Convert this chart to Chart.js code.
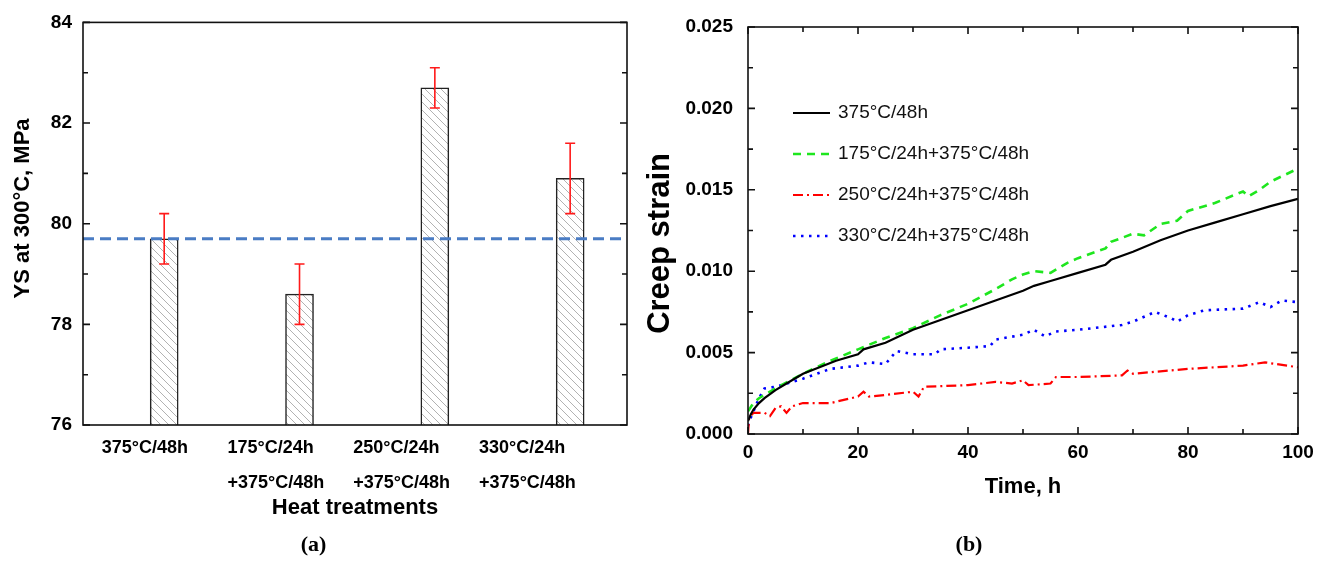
<!DOCTYPE html>
<html>
<head>
<meta charset="utf-8">
<script src="https://cdn.jsdelivr.net/npm/chart.js@4.4.1/dist/chart.umd.min.js"></script>
<style>
  html, body { margin: 0; padding: 0; background: #fff; }
  #wrap { position: relative; width: 1325px; height: 563px; }
  #boxA { position: absolute; left: 0; top: 0; width: 640px; height: 563px; }
  #boxB { position: absolute; left: 640px; top: 0; width: 685px; height: 563px; }
</style>
</head>
<body>
<div id="wrap">
  <div id="boxA"><canvas id="chart-a"></canvas></div>
  <div id="boxB"><canvas id="chart-b"></canvas></div>
</div>
<script>
// ---- (a) yield strength at 300C ----
const treatments = [
  ['375°C/48h'],
  ['175°C/24h', '+375°C/48h'],
  ['250°C/24h', '+375°C/48h'],
  ['330°C/24h', '+375°C/48h'],
];
const ysValues = [79.7, 78.6, 82.7, 80.9];
const ysErrors = [0.5, 0.6, 0.4, 0.7];
const ysReference = 79.7;
const ysTicks = [76, 78, 80, 82, 84];

// ---- (b) creep strain vs time ----
const time375 = [0, 0.5, 1, 2, 3, 5, 7, 10, 13, 16, 20, 21, 25, 30, 35, 40, 45, 50, 52, 55, 60, 65, 66, 70, 75, 80, 85, 90, 95, 100];
const strain375 = [0.0008, 0.0012, 0.0015, 0.0019, 0.0022, 0.0027, 0.0031, 0.0037, 0.0041, 0.0045, 0.0049, 0.0052, 0.0056, 0.0064, 0.0070, 0.0076, 0.0082, 0.0088, 0.0091, 0.0094, 0.0099, 0.0104, 0.0107, 0.0112, 0.0119, 0.0125, 0.0130, 0.0135, 0.0140, 0.01445];

const time175 = [0, 1, 2, 5, 10, 15, 20, 25, 30, 35, 40, 45, 48, 50, 52, 55, 58, 60, 65, 66, 70, 72, 75, 78, 80, 85, 90, 91, 93, 95, 100];
const strain175 = [0.0014, 0.0019, 0.0022, 0.0028, 0.0037, 0.0045, 0.0052, 0.0059, 0.0065, 0.0073, 0.0080, 0.0089, 0.0095, 0.0098, 0.0100, 0.0099, 0.0105, 0.0108, 0.0114, 0.0118, 0.0123, 0.0122, 0.0129, 0.0131, 0.0137, 0.0142, 0.0149, 0.0146, 0.0150, 0.0155, 0.0163];

const time250 = [0, 0.2, 1, 3, 4, 5, 6, 7, 8, 10, 15, 20, 21, 22, 25, 30, 31, 32, 40, 45, 48, 50, 51, 55, 56, 60, 68, 69, 70, 80, 90, 94, 98, 100];
const strain250 = [0.0000, 0.0010, 0.0013, 0.0013, 0.0011, 0.0016, 0.0017, 0.0013, 0.0017, 0.0019, 0.0019, 0.0023, 0.0026, 0.0023, 0.0024, 0.0026, 0.0023, 0.0029, 0.0030, 0.0032, 0.0031, 0.0033, 0.0030, 0.0031, 0.0035, 0.0035, 0.0036, 0.0039, 0.0037, 0.0040, 0.0042, 0.0044, 0.0042, 0.0041];

const time330 = [0, 0.5, 1, 2, 3, 5, 7, 10, 15, 20, 22, 25, 27, 30, 34, 35, 40, 44, 45, 50, 52, 54, 56, 60, 68, 70, 74, 77, 78, 80, 83, 90, 93, 95, 97, 100];
const strain330 = [0.0005, 0.0010, 0.0014, 0.0022, 0.0028, 0.0029, 0.0031, 0.0034, 0.0040, 0.0042, 0.0044, 0.0043, 0.0051, 0.0049, 0.0049, 0.0052, 0.0053, 0.0054, 0.0058, 0.0061, 0.0064, 0.0060, 0.0063, 0.0064, 0.0067, 0.0069, 0.0075, 0.0071, 0.0069, 0.0073, 0.0076, 0.0077, 0.0081, 0.0078, 0.0082, 0.0081];

const timeTicks = [0, 20, 40, 60, 80, 100];
const strainTicks = [0, 0.005, 0.010, 0.015, 0.020, 0.025];

const FONT = "'Liberation Sans', Arial, sans-serif";
Chart.defaults.font.family = FONT;
Chart.defaults.color = '#000';

function pairs(xs, ys) {
  return xs.map((x, i) => ({ x: x, y: ys[i] }));
}

// majors plus the halfway minor ticks
function withMinors(majors) {
  const out = [];
  majors.forEach((v, i) => {
    out.push({ value: v });
    if (i < majors.length - 1) out.push({ value: (v + majors[i + 1]) / 2 });
  });
  return out;
}

function isMajor(list, v) {
  return list.some(m => Math.abs(m - v) < 1e-9);
}

function hatchPattern() {
  const n = 8;
  const c = document.createElement('canvas');
  c.width = n; c.height = n;
  const g = c.getContext('2d');
  g.fillStyle = '#fff';
  g.fillRect(0, 0, n, n);
  g.strokeStyle = '#b2b2b2';
  g.lineWidth = 1;
  g.beginPath();
  g.moveTo(-1, -1); g.lineTo(n + 1, n + 1);
  g.moveTo(-1, n - 1); g.lineTo(1, n + 1);
  g.moveTo(n - 1, -1); g.lineTo(n + 1, 1);
  g.stroke();
  return g.createPattern(c, 'repeat');
}

// box round the plot and inward ticks
const framePlugin = {
  id: 'frame',
  afterDraw(chart, args, opts) {
    const { ctx, chartArea: a } = chart;
    ctx.save();
    ctx.strokeStyle = '#111';
    ctx.lineWidth = 1.6;
    ctx.setLineDash([]);
    ctx.beginPath();
    (opts.sides || []).forEach(([side, id]) => {
      const s = chart.scales[id];
      s.ticks.forEach(t => {
        const len = t.label !== '' ? 7 : 5;
        const p = s.getPixelForValue(t.value);
        if (side === 'left') { ctx.moveTo(a.left, p); ctx.lineTo(a.left + len, p); }
        if (side === 'right') { ctx.moveTo(a.right, p); ctx.lineTo(a.right - len, p); }
        if (side === 'top') { ctx.moveTo(p, a.top); ctx.lineTo(p, a.top + len); }
        if (side === 'bottom') { ctx.moveTo(p, a.bottom); ctx.lineTo(p, a.bottom - len); }
      });
    });
    ctx.stroke();
    ctx.strokeRect(a.left, a.top, a.width, a.height);
    ctx.restore();
  }
};

// dashed reference line and red error bars for (a)
const errorPlugin = {
  id: 'errors',
  afterDatasetsDraw(chart) {
    const { ctx, chartArea: a } = chart;
    const x = chart.scales.x, y = chart.scales.y;
    ctx.save();
    ctx.strokeStyle = '#4a7cc4';
    ctx.lineWidth = 3;
    ctx.setLineDash([11, 6]);
    const ry = y.getPixelForValue(ysReference);
    ctx.beginPath();
    ctx.moveTo(a.left, ry);
    ctx.lineTo(a.right, ry);
    ctx.stroke();

    ctx.setLineDash([]);
    ctx.strokeStyle = '#ff1a1a';
    ctx.lineWidth = 1.6;
    ysValues.forEach((v, i) => {
      const px = x.getPixelForValue(i + 1);
      const hi = y.getPixelForValue(v + ysErrors[i]);
      const lo = y.getPixelForValue(v - ysErrors[i]);
      ctx.beginPath();
      ctx.moveTo(px, hi); ctx.lineTo(px, lo);
      ctx.moveTo(px - 5, hi); ctx.lineTo(px + 5, hi);
      ctx.moveTo(px - 5, lo); ctx.lineTo(px + 5, lo);
      ctx.stroke();
    });
    ctx.restore();
  }
};

// legend inside the plot of (b)
const lineLegend = {
  id: 'lineLegend',
  afterDraw(chart, args, o) {
    const { ctx, chartArea: a } = chart;
    ctx.save();
    ctx.font = o.font;
    ctx.textBaseline = 'middle';
    chart.data.datasets.forEach((d, i) => {
      const x = a.left + o.left;
      const y = a.top + o.top + i * o.gap;
      ctx.setLineDash(d.borderDash || []);
      ctx.strokeStyle = d.borderColor;
      ctx.lineWidth = d.borderWidth;
      ctx.beginPath();
      ctx.moveTo(x, y);
      ctx.lineTo(x + o.lineLen, y);
      ctx.stroke();
      ctx.setLineDash([]);
      ctx.fillStyle = '#111';
      ctx.fillText(d.label, x + o.lineLen + 8, y);
    });
    ctx.restore();
  }
};

const tickFont = { family: FONT, size: 19, weight: 'bold' };
const titleFont = { family: FONT, size: 22, weight: 'bold' };
const panelFont = { family: "'Liberation Serif', 'Times New Roman', serif", size: 22, weight: 'bold' };

// ---------- chart (a) ----------
new Chart(document.getElementById('chart-a'), {
  type: 'bar',
  data: {
    datasets: [{
      label: 'YS',
      data: ysValues.map((v, i) => ({ x: i + 1, y: v })),
      backgroundColor: hatchPattern(),
      borderColor: '#222',
      borderWidth: 1.5,
      barThickness: 28
    }]
  },
  plugins: [errorPlugin, framePlugin],
  options: {
    responsive: true,
    maintainAspectRatio: false,
    animation: false,
    devicePixelRatio: 1,
    layout: { padding: { top: 20, right: 13, left: 0, bottom: 0 } },
    plugins: {
      legend: { display: false },
      tooltip: { enabled: false },
      title: {
        display: true, position: 'bottom', text: '(a)', color: '#000',
        font: panelFont, padding: { top: 8, bottom: 4 }
      },
      frame: { sides: [['left', 'y'], ['right', 'y']] }
    },
    scales: {
      x: { type: 'linear', display: false, offset: false, min: 0.4, max: 4.42 },
      xLab: {
        type: 'linear', axis: 'x', position: 'bottom', offset: false, min: 0.851, max: 5.176,
        afterBuildTicks: s => { s.ticks = treatments.map((t, i) => ({ value: i + 1 })); },
        afterFit: s => { s.height = 99.6; },
        grid: { display: false, drawTicks: false, offset: false },
        border: { display: false },
        ticks: {
          callback: (v, i) => treatments[i],
          font: { family: FONT, size: 18, weight: 'bold', lineHeight: 1.94 },
          align: 'start', maxRotation: 0, autoSkip: false, padding: 6
        },
        title: { display: true, text: 'Heat treatments', font: titleFont, padding: { top: 0, bottom: 3 } }
      },
      y: {
        min: 76, max: 84,
        afterBuildTicks: s => { s.ticks = withMinors(ysTicks); },
        afterFit: s => { s.width = 83; },
        grid: { display: false, drawTicks: false },
        border: { display: false },
        ticks: {
          callback: v => isMajor(ysTicks, v) ? String(v) : '',
          font: tickFont, padding: 11
        },
        // leading spaces lift the rotated title a little above centre
        title: { display: true, text: '\u00a0\u00a0\u00a0\u00a0\u00a0YS at 300°C, MPa', font: titleFont, padding: { top: 10, bottom: 0 } }
      }
    }
  }
});

// ---------- chart (b) ----------
new Chart(document.getElementById('chart-b'), {
  type: 'line',
  data: {
    datasets: [
      { label: '375°C/48h', data: pairs(time375, strain375), borderColor: '#000000', borderWidth: 2.2, borderDash: [] },
      { label: '175°C/24h+375°C/48h', data: pairs(time175, strain175), borderColor: '#1ee61e', borderWidth: 2.6, borderDash: [8, 6] },
      { label: '250°C/24h+375°C/48h', data: pairs(time250, strain250), borderColor: '#ff0000', borderWidth: 2.2, borderDash: [10, 4, 2, 4] },
      { label: '330°C/24h+375°C/48h', data: pairs(time330, strain330), borderColor: '#0000ff', borderWidth: 2.6, borderDash: [2.5, 5.5] }
    ]
  },
  plugins: [framePlugin, lineLegend],
  options: {
    responsive: true,
    maintainAspectRatio: false,
    animation: false,
    devicePixelRatio: 1,
    elements: { point: { radius: 0 }, line: { tension: 0 } },
    layout: { padding: { top: 27, right: 27, left: 0, bottom: 0 } },
    plugins: {
      legend: { display: false },
      tooltip: { enabled: false },
      title: {
        display: true, position: 'bottom', text: '(b)', color: '#000',
        font: panelFont, padding: { top: 8, bottom: 4 }
      },
      frame: { sides: [['left', 'y'], ['right', 'y'], ['top', 'x'], ['bottom', 'x']] },
      lineLegend: { font: '19px ' + FONT, left: 45, top: 86, gap: 41, lineLen: 37 }
    },
    scales: {
      x: {
        type: 'linear', min: 0, max: 100,
        afterBuildTicks: s => { s.ticks = withMinors(timeTicks); },
        afterFit: s => { s.height = 90.6; },
        grid: { display: false, drawTicks: false },
        border: { display: false },
        ticks: {
          callback: v => isMajor(timeTicks, v) ? String(v) : '',
          font: tickFont, maxRotation: 0, autoSkip: false, padding: 7
        },
        title: { display: true, text: 'Time, h', font: titleFont, padding: { top: 0, bottom: 24 } }
      },
      y: {
        min: 0, max: 0.025,
        afterBuildTicks: s => { s.ticks = withMinors(strainTicks); },
        afterFit: s => { s.width = 108; },
        grid: { display: false, drawTicks: false },
        border: { display: false },
        ticks: {
          callback: v => isMajor(strainTicks, v) ? v.toFixed(3) : '',
          font: tickFont, autoSkip: false, padding: 15
        },
        // trailing spaces push the rotated title a little below centre
        title: { display: true, text: 'Creep strain\u00a0\u00a0\u00a0', font: { family: FONT, size: 31, weight: 'bold' }, padding: { top: 2, bottom: 0 } }
      }
    }
  }
});
</script>
</body>
</html>
